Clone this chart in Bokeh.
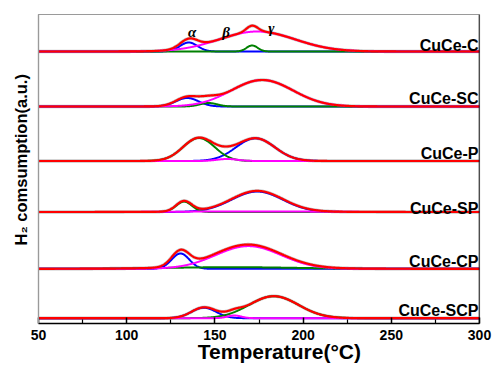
import numpy as np
from bokeh.plotting import figure
from bokeh.models import Range1d, FixedTicker, Label, Span
from bokeh.embed import file_html
from bokeh.resources import INLINE

# ---------------- data ----------------
samples = ["CuCe-C", "CuCe-SC", "CuCe-P", "CuCe-SP", "CuCe-CP", "CuCe-SCP"]
offsets = [272.0, 217.0, 162.5, 111.5, 54.7, 5.3]   # vertical stacking offset of each trace

# fitted peak components: centre (°C), height (a.u.), width (°C)
blue_center = [135.2, 134.3, 173.0, 174.0, 130.5, 143.7]
blue_height = [9.0, 8.5, 22.7, 20.5, 15.3, 10.5]
blue_width = [5.0, 6.5, 11.0, 14.5, 5.0, 7.0]

green_center = [171.1, 146.4, 140.9, 132.5, 160.0, 183.4]
green_height = [6.0, 3.5, 23.0, 10.4, 1.6, 22.0]
green_width = [3.2, 5.0, 9.0, 4.5, 35.0, 14.0]

magenta_center = [174.0, 176.8, 157.0, 170.0, 169.0, 161.0]
magenta_height = [20.0, 26.5, 2.0, 0.6, 22.7, 2.7]
magenta_width = [21.5, 17.5, 6.0, 35.0, 18.5, 4.0]

x_ticks = [50, 100, 150, 200, 250, 300]
x_minor_ticks = [75, 125, 175, 225, 275]
peak_names = ["α", "β", "γ"]
peak_temps = [137.1, 156.4, 182.0]
x_title = "Temperature(°C)"
y_title = "H₂ comsumption(a.u.)"

# ---------------- layout ----------------
label_y = [278.0, 224.7, 169.7, 115.3, 62.3, 13.0]
greek_y = [291.3, 292.0, 296.0]

T = np.linspace(50, 300, 1001)


def peak(c, h, w):
    return h * np.exp(-((T - c) ** 2) / (2.0 * w * w))


p = figure(width=493, height=365, x_range=Range1d(50, 300), y_range=Range1d(0, 309),
           min_border_left=38, min_border_right=14, min_border_top=14, min_border_bottom=42,
           output_backend="svg", toolbar_location=None)
p.xgrid.visible = False
p.ygrid.visible = False
p.outline_line_color = "#9a9a9a"
p.outline_line_width = 1.2
p.background_fill_color = "white"
p.border_fill_color = "white"

ax = p.xaxis[0]
ax.ticker = FixedTicker(ticks=x_ticks, minor_ticks=x_minor_ticks)
ax.major_tick_in = 6
ax.major_tick_out = 0
ax.minor_tick_in = 4
ax.minor_tick_out = 0
ax.axis_line_width = 1.5
ax.major_tick_line_width = 1.5
ax.minor_tick_line_width = 1.2
ax.axis_line_color = "black"
ax.major_label_text_font = "Liberation Sans"
ax.major_label_text_font_style = "bold"
ax.major_label_text_font_size = "14px"
ax.major_label_text_color = "black"
ax.major_label_standoff = 6
ax.axis_label = "\u00a0" * 7 + x_title
ax.axis_label_text_font = "Liberation Sans"
ax.axis_label_text_font_style = "bold"
ax.axis_label_text_font_size = "21px"
ax.axis_label_text_color = "black"
ax.axis_label_standoff = -3

ay = p.yaxis[0]
ay.ticker = FixedTicker(ticks=[], minor_ticks=[])
ay.major_tick_in = 0
ay.major_tick_out = 0
ay.minor_tick_in = 0
ay.minor_tick_out = 0
ay.axis_line_color = "#9a9a9a"
ay.axis_line_width = 1.2
ay.major_label_standoff = 0
ay.axis_label = "\u00a0" * 4 + y_title
ay.axis_label_text_font = "Liberation Sans"
ay.axis_label_text_font_style = "bold"
ay.axis_label_text_font_size = "16.5px"
ay.axis_label_text_color = "black"
ay.axis_label_standoff = 9

p.add_layout(Span(location=300, dimension="height", line_color="black", line_width=1.5))

for i, name in enumerate(samples):
    off = offsets[i]
    b = peak(blue_center[i], blue_height[i], blue_width[i])
    g = peak(green_center[i], green_height[i], green_width[i])
    m = peak(magenta_center[i], magenta_height[i], magenta_width[i])
    total = b + g + m
    p.line(T, total + off, line_color="#8c8c8c", line_width=3.4, line_alpha=0.5)
    p.line(T, b + off, line_color="#0000ff", line_width=2)
    p.line(T, g + off, line_color="#008000", line_width=2)
    p.line(T, m + off, line_color="#ff00ff", line_width=2)
    p.line(T, total + off, line_color="#ff0000", line_width=2.2)
    p.add_layout(Label(x=299.4, y=label_y[i], text=name, text_align="right",
                       text_baseline="alphabetic", text_font="Liberation Sans",
                       text_font_style="bold", text_font_size="16px", text_color="black"))

for name, t, gy in zip(peak_names, peak_temps, greek_y):
    p.add_layout(Label(x=t, y=gy, text=name, text_align="center", text_baseline="alphabetic",
                       text_font="Liberation Serif", text_font_style="bold italic",
                       text_font_size="15px", text_color="black"))

open("out.html", "w").write(file_html(p, INLINE))
